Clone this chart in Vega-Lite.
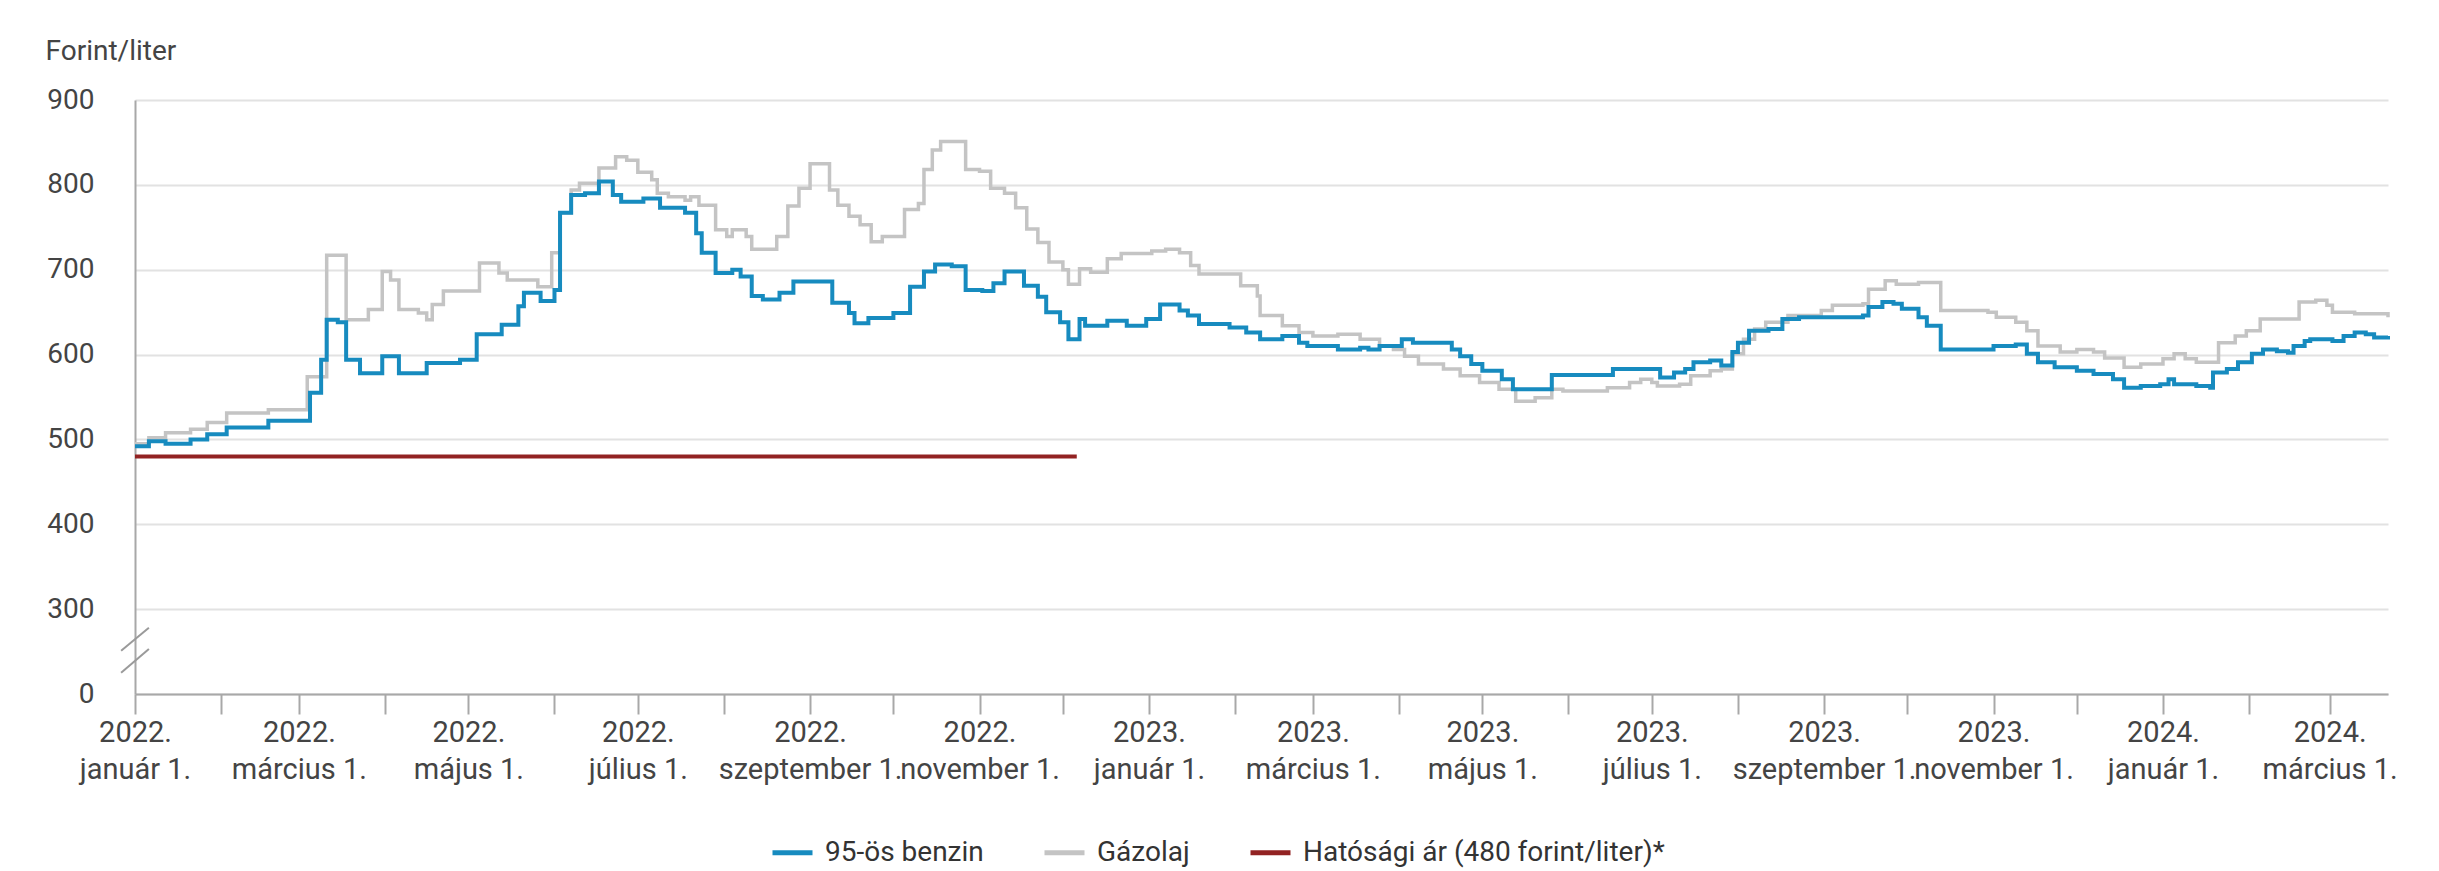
{
  "$schema": "https://vega.github.io/schema/vega-lite/v6.json",
  "width": 2253,
  "height": 594,
  "autosize": {"type": "none"},
  "padding": {"left": 135, "top": 100, "right": 51, "bottom": 177},
  "background": "white",
  "config": {
    "font": "Roboto",
    "view": {"stroke": null},
    "axis": {"labelFont": "Roboto", "titleFont": "Roboto", "labelColor": "#444444", "titleColor": "#444444"}
  },
  "datasets": {
    "prices": [
      {"d": "2022-01-01", "s": "95-ös benzin", "v": 492},
      {"d": "2022-01-06", "s": "95-ös benzin", "v": 498},
      {"d": "2022-01-12", "s": "95-ös benzin", "v": 495},
      {"d": "2022-01-21", "s": "95-ös benzin", "v": 500},
      {"d": "2022-01-27", "s": "95-ös benzin", "v": 506},
      {"d": "2022-02-03", "s": "95-ös benzin", "v": 514},
      {"d": "2022-02-18", "s": "95-ös benzin", "v": 522},
      {"d": "2022-03-05", "s": "95-ös benzin", "v": 555},
      {"d": "2022-03-09", "s": "95-ös benzin", "v": 594},
      {"d": "2022-03-11", "s": "95-ös benzin", "v": 641},
      {"d": "2022-03-15", "s": "95-ös benzin", "v": 638},
      {"d": "2022-03-18", "s": "95-ös benzin", "v": 594},
      {"d": "2022-03-23", "s": "95-ös benzin", "v": 578},
      {"d": "2022-03-31", "s": "95-ös benzin", "v": 598},
      {"d": "2022-04-06", "s": "95-ös benzin", "v": 578},
      {"d": "2022-04-16", "s": "95-ös benzin", "v": 590},
      {"d": "2022-04-28", "s": "95-ös benzin", "v": 594},
      {"d": "2022-05-04", "s": "95-ös benzin", "v": 624},
      {"d": "2022-05-13", "s": "95-ös benzin", "v": 635},
      {"d": "2022-05-19", "s": "95-ös benzin", "v": 657},
      {"d": "2022-05-21", "s": "95-ös benzin", "v": 673},
      {"d": "2022-05-27", "s": "95-ös benzin", "v": 663},
      {"d": "2022-06-01", "s": "95-ös benzin", "v": 676},
      {"d": "2022-06-03", "s": "95-ös benzin", "v": 767},
      {"d": "2022-06-07", "s": "95-ös benzin", "v": 788},
      {"d": "2022-06-12", "s": "95-ös benzin", "v": 790},
      {"d": "2022-06-17", "s": "95-ös benzin", "v": 804},
      {"d": "2022-06-22", "s": "95-ös benzin", "v": 788},
      {"d": "2022-06-25", "s": "95-ös benzin", "v": 780},
      {"d": "2022-07-03", "s": "95-ös benzin", "v": 784},
      {"d": "2022-07-09", "s": "95-ös benzin", "v": 773},
      {"d": "2022-07-18", "s": "95-ös benzin", "v": 767},
      {"d": "2022-07-22", "s": "95-ös benzin", "v": 743},
      {"d": "2022-07-24", "s": "95-ös benzin", "v": 720},
      {"d": "2022-07-29", "s": "95-ös benzin", "v": 696},
      {"d": "2022-08-04", "s": "95-ös benzin", "v": 700},
      {"d": "2022-08-07", "s": "95-ös benzin", "v": 692},
      {"d": "2022-08-11", "s": "95-ös benzin", "v": 669},
      {"d": "2022-08-15", "s": "95-ös benzin", "v": 665},
      {"d": "2022-08-21", "s": "95-ös benzin", "v": 673},
      {"d": "2022-08-26", "s": "95-ös benzin", "v": 686},
      {"d": "2022-09-09", "s": "95-ös benzin", "v": 661},
      {"d": "2022-09-15", "s": "95-ös benzin", "v": 649},
      {"d": "2022-09-17", "s": "95-ös benzin", "v": 637},
      {"d": "2022-09-22", "s": "95-ös benzin", "v": 643},
      {"d": "2022-10-01", "s": "95-ös benzin", "v": 649},
      {"d": "2022-10-07", "s": "95-ös benzin", "v": 680},
      {"d": "2022-10-12", "s": "95-ös benzin", "v": 698},
      {"d": "2022-10-16", "s": "95-ös benzin", "v": 706},
      {"d": "2022-10-22", "s": "95-ös benzin", "v": 704},
      {"d": "2022-10-27", "s": "95-ös benzin", "v": 676},
      {"d": "2022-11-02", "s": "95-ös benzin", "v": 675},
      {"d": "2022-11-06", "s": "95-ös benzin", "v": 684},
      {"d": "2022-11-10", "s": "95-ös benzin", "v": 698},
      {"d": "2022-11-17", "s": "95-ös benzin", "v": 681},
      {"d": "2022-11-22", "s": "95-ös benzin", "v": 668},
      {"d": "2022-11-25", "s": "95-ös benzin", "v": 650},
      {"d": "2022-11-30", "s": "95-ös benzin", "v": 638},
      {"d": "2022-12-03", "s": "95-ös benzin", "v": 618},
      {"d": "2022-12-07", "s": "95-ös benzin", "v": 642},
      {"d": "2022-12-09", "s": "95-ös benzin", "v": 634},
      {"d": "2022-12-17", "s": "95-ös benzin", "v": 640},
      {"d": "2022-12-24", "s": "95-ös benzin", "v": 634},
      {"d": "2022-12-31", "s": "95-ös benzin", "v": 642},
      {"d": "2023-01-05", "s": "95-ös benzin", "v": 659},
      {"d": "2023-01-12", "s": "95-ös benzin", "v": 652},
      {"d": "2023-01-15", "s": "95-ös benzin", "v": 646},
      {"d": "2023-01-19", "s": "95-ös benzin", "v": 636},
      {"d": "2023-01-30", "s": "95-ös benzin", "v": 632},
      {"d": "2023-02-05", "s": "95-ös benzin", "v": 626},
      {"d": "2023-02-10", "s": "95-ös benzin", "v": 618},
      {"d": "2023-02-18", "s": "95-ös benzin", "v": 622},
      {"d": "2023-02-24", "s": "95-ös benzin", "v": 614},
      {"d": "2023-02-27", "s": "95-ös benzin", "v": 610},
      {"d": "2023-03-10", "s": "95-ös benzin", "v": 606},
      {"d": "2023-03-18", "s": "95-ös benzin", "v": 608},
      {"d": "2023-03-21", "s": "95-ös benzin", "v": 606},
      {"d": "2023-03-25", "s": "95-ös benzin", "v": 610},
      {"d": "2023-04-02", "s": "95-ös benzin", "v": 618},
      {"d": "2023-04-06", "s": "95-ös benzin", "v": 614},
      {"d": "2023-04-20", "s": "95-ös benzin", "v": 606},
      {"d": "2023-04-23", "s": "95-ös benzin", "v": 598},
      {"d": "2023-04-27", "s": "95-ös benzin", "v": 589},
      {"d": "2023-05-01", "s": "95-ös benzin", "v": 581},
      {"d": "2023-05-08", "s": "95-ös benzin", "v": 571},
      {"d": "2023-05-12", "s": "95-ös benzin", "v": 559},
      {"d": "2023-05-26", "s": "95-ös benzin", "v": 576},
      {"d": "2023-06-17", "s": "95-ös benzin", "v": 583},
      {"d": "2023-07-04", "s": "95-ös benzin", "v": 573},
      {"d": "2023-07-09", "s": "95-ös benzin", "v": 579},
      {"d": "2023-07-13", "s": "95-ös benzin", "v": 583},
      {"d": "2023-07-16", "s": "95-ös benzin", "v": 591},
      {"d": "2023-07-22", "s": "95-ös benzin", "v": 593},
      {"d": "2023-07-26", "s": "95-ös benzin", "v": 587},
      {"d": "2023-07-30", "s": "95-ös benzin", "v": 603},
      {"d": "2023-08-01", "s": "95-ös benzin", "v": 614},
      {"d": "2023-08-05", "s": "95-ös benzin", "v": 628},
      {"d": "2023-08-12", "s": "95-ös benzin", "v": 630},
      {"d": "2023-08-17", "s": "95-ös benzin", "v": 642},
      {"d": "2023-08-23", "s": "95-ös benzin", "v": 644},
      {"d": "2023-09-15", "s": "95-ös benzin", "v": 646},
      {"d": "2023-09-17", "s": "95-ös benzin", "v": 656},
      {"d": "2023-09-22", "s": "95-ös benzin", "v": 662},
      {"d": "2023-09-26", "s": "95-ös benzin", "v": 660},
      {"d": "2023-09-29", "s": "95-ös benzin", "v": 654},
      {"d": "2023-10-05", "s": "95-ös benzin", "v": 644},
      {"d": "2023-10-08", "s": "95-ös benzin", "v": 634},
      {"d": "2023-10-13", "s": "95-ös benzin", "v": 606},
      {"d": "2023-11-01", "s": "95-ös benzin", "v": 610},
      {"d": "2023-11-09", "s": "95-ös benzin", "v": 612},
      {"d": "2023-11-13", "s": "95-ös benzin", "v": 601},
      {"d": "2023-11-17", "s": "95-ös benzin", "v": 591},
      {"d": "2023-11-23", "s": "95-ös benzin", "v": 585},
      {"d": "2023-12-01", "s": "95-ös benzin", "v": 581},
      {"d": "2023-12-07", "s": "95-ös benzin", "v": 577},
      {"d": "2023-12-14", "s": "95-ös benzin", "v": 571},
      {"d": "2023-12-18", "s": "95-ös benzin", "v": 561},
      {"d": "2023-12-24", "s": "95-ös benzin", "v": 563},
      {"d": "2023-12-31", "s": "95-ös benzin", "v": 565},
      {"d": "2024-01-03", "s": "95-ös benzin", "v": 571},
      {"d": "2024-01-05", "s": "95-ös benzin", "v": 565},
      {"d": "2024-01-13", "s": "95-ös benzin", "v": 563},
      {"d": "2024-01-18", "s": "95-ös benzin", "v": 561},
      {"d": "2024-01-19", "s": "95-ös benzin", "v": 579},
      {"d": "2024-01-24", "s": "95-ös benzin", "v": 583},
      {"d": "2024-01-28", "s": "95-ös benzin", "v": 591},
      {"d": "2024-02-02", "s": "95-ös benzin", "v": 601},
      {"d": "2024-02-06", "s": "95-ös benzin", "v": 606},
      {"d": "2024-02-11", "s": "95-ös benzin", "v": 604},
      {"d": "2024-02-15", "s": "95-ös benzin", "v": 602},
      {"d": "2024-02-17", "s": "95-ös benzin", "v": 610},
      {"d": "2024-02-21", "s": "95-ös benzin", "v": 616},
      {"d": "2024-02-23", "s": "95-ös benzin", "v": 618},
      {"d": "2024-03-02", "s": "95-ös benzin", "v": 616},
      {"d": "2024-03-06", "s": "95-ös benzin", "v": 622},
      {"d": "2024-03-10", "s": "95-ös benzin", "v": 626},
      {"d": "2024-03-14", "s": "95-ös benzin", "v": 624},
      {"d": "2024-03-17", "s": "95-ös benzin", "v": 620},
      {"d": "2024-03-22", "s": "95-ös benzin", "v": 622},

      {"d": "2022-01-01", "s": "Gázolaj", "v": 495},
      {"d": "2022-01-06", "s": "Gázolaj", "v": 502},
      {"d": "2022-01-12", "s": "Gázolaj", "v": 508},
      {"d": "2022-01-21", "s": "Gázolaj", "v": 512},
      {"d": "2022-01-27", "s": "Gázolaj", "v": 520},
      {"d": "2022-02-03", "s": "Gázolaj", "v": 531},
      {"d": "2022-02-18", "s": "Gázolaj", "v": 535},
      {"d": "2022-03-04", "s": "Gázolaj", "v": 574},
      {"d": "2022-03-11", "s": "Gázolaj", "v": 717},
      {"d": "2022-03-18", "s": "Gázolaj", "v": 641},
      {"d": "2022-03-26", "s": "Gázolaj", "v": 653},
      {"d": "2022-03-31", "s": "Gázolaj", "v": 698},
      {"d": "2022-04-03", "s": "Gázolaj", "v": 688},
      {"d": "2022-04-06", "s": "Gázolaj", "v": 653},
      {"d": "2022-04-13", "s": "Gázolaj", "v": 649},
      {"d": "2022-04-16", "s": "Gázolaj", "v": 641},
      {"d": "2022-04-18", "s": "Gázolaj", "v": 659},
      {"d": "2022-04-22", "s": "Gázolaj", "v": 675},
      {"d": "2022-05-05", "s": "Gázolaj", "v": 708},
      {"d": "2022-05-12", "s": "Gázolaj", "v": 696},
      {"d": "2022-05-15", "s": "Gázolaj", "v": 688},
      {"d": "2022-05-26", "s": "Gázolaj", "v": 680},
      {"d": "2022-05-31", "s": "Gázolaj", "v": 720},
      {"d": "2022-06-03", "s": "Gázolaj", "v": 767},
      {"d": "2022-06-07", "s": "Gázolaj", "v": 794},
      {"d": "2022-06-10", "s": "Gázolaj", "v": 802},
      {"d": "2022-06-17", "s": "Gázolaj", "v": 820},
      {"d": "2022-06-23", "s": "Gázolaj", "v": 833},
      {"d": "2022-06-27", "s": "Gázolaj", "v": 829},
      {"d": "2022-07-01", "s": "Gázolaj", "v": 815},
      {"d": "2022-07-06", "s": "Gázolaj", "v": 806},
      {"d": "2022-07-08", "s": "Gázolaj", "v": 790},
      {"d": "2022-07-12", "s": "Gázolaj", "v": 786},
      {"d": "2022-07-18", "s": "Gázolaj", "v": 782},
      {"d": "2022-07-20", "s": "Gázolaj", "v": 786},
      {"d": "2022-07-23", "s": "Gázolaj", "v": 776},
      {"d": "2022-07-29", "s": "Gázolaj", "v": 747},
      {"d": "2022-08-02", "s": "Gázolaj", "v": 739},
      {"d": "2022-08-04", "s": "Gázolaj", "v": 747},
      {"d": "2022-08-09", "s": "Gázolaj", "v": 739},
      {"d": "2022-08-11", "s": "Gázolaj", "v": 724},
      {"d": "2022-08-20", "s": "Gázolaj", "v": 739},
      {"d": "2022-08-24", "s": "Gázolaj", "v": 775},
      {"d": "2022-08-28", "s": "Gázolaj", "v": 796},
      {"d": "2022-09-01", "s": "Gázolaj", "v": 825},
      {"d": "2022-09-08", "s": "Gázolaj", "v": 794},
      {"d": "2022-09-11", "s": "Gázolaj", "v": 776},
      {"d": "2022-09-15", "s": "Gázolaj", "v": 763},
      {"d": "2022-09-19", "s": "Gázolaj", "v": 753},
      {"d": "2022-09-23", "s": "Gázolaj", "v": 733},
      {"d": "2022-09-27", "s": "Gázolaj", "v": 739},
      {"d": "2022-10-05", "s": "Gázolaj", "v": 771},
      {"d": "2022-10-10", "s": "Gázolaj", "v": 778},
      {"d": "2022-10-12", "s": "Gázolaj", "v": 818},
      {"d": "2022-10-15", "s": "Gázolaj", "v": 841},
      {"d": "2022-10-18", "s": "Gázolaj", "v": 851},
      {"d": "2022-10-27", "s": "Gázolaj", "v": 818},
      {"d": "2022-11-01", "s": "Gázolaj", "v": 816},
      {"d": "2022-11-05", "s": "Gázolaj", "v": 796},
      {"d": "2022-11-10", "s": "Gázolaj", "v": 790},
      {"d": "2022-11-14", "s": "Gázolaj", "v": 773},
      {"d": "2022-11-18", "s": "Gázolaj", "v": 748},
      {"d": "2022-11-22", "s": "Gázolaj", "v": 732},
      {"d": "2022-11-26", "s": "Gázolaj", "v": 709},
      {"d": "2022-12-01", "s": "Gázolaj", "v": 700},
      {"d": "2022-12-03", "s": "Gázolaj", "v": 683},
      {"d": "2022-12-07", "s": "Gázolaj", "v": 701},
      {"d": "2022-12-11", "s": "Gázolaj", "v": 697},
      {"d": "2022-12-17", "s": "Gázolaj", "v": 713},
      {"d": "2022-12-22", "s": "Gázolaj", "v": 719},
      {"d": "2023-01-02", "s": "Gázolaj", "v": 722},
      {"d": "2023-01-07", "s": "Gázolaj", "v": 724},
      {"d": "2023-01-12", "s": "Gázolaj", "v": 720},
      {"d": "2023-01-16", "s": "Gázolaj", "v": 705},
      {"d": "2023-01-19", "s": "Gázolaj", "v": 695},
      {"d": "2023-02-03", "s": "Gázolaj", "v": 681},
      {"d": "2023-02-09", "s": "Gázolaj", "v": 669},
      {"d": "2023-02-10", "s": "Gázolaj", "v": 646},
      {"d": "2023-02-18", "s": "Gázolaj", "v": 634},
      {"d": "2023-02-24", "s": "Gázolaj", "v": 626},
      {"d": "2023-03-01", "s": "Gázolaj", "v": 622},
      {"d": "2023-03-10", "s": "Gázolaj", "v": 624},
      {"d": "2023-03-18", "s": "Gázolaj", "v": 618},
      {"d": "2023-03-25", "s": "Gázolaj", "v": 610},
      {"d": "2023-03-30", "s": "Gázolaj", "v": 606},
      {"d": "2023-04-03", "s": "Gázolaj", "v": 598},
      {"d": "2023-04-08", "s": "Gázolaj", "v": 589},
      {"d": "2023-04-17", "s": "Gázolaj", "v": 583},
      {"d": "2023-04-23", "s": "Gázolaj", "v": 575},
      {"d": "2023-04-30", "s": "Gázolaj", "v": 567},
      {"d": "2023-05-07", "s": "Gázolaj", "v": 559},
      {"d": "2023-05-13", "s": "Gázolaj", "v": 545},
      {"d": "2023-05-20", "s": "Gázolaj", "v": 549},
      {"d": "2023-05-26", "s": "Gázolaj", "v": 559},
      {"d": "2023-05-30", "s": "Gázolaj", "v": 557},
      {"d": "2023-06-15", "s": "Gázolaj", "v": 561},
      {"d": "2023-06-23", "s": "Gázolaj", "v": 567},
      {"d": "2023-06-27", "s": "Gázolaj", "v": 571},
      {"d": "2023-07-01", "s": "Gázolaj", "v": 567},
      {"d": "2023-07-03", "s": "Gázolaj", "v": 563},
      {"d": "2023-07-11", "s": "Gázolaj", "v": 565},
      {"d": "2023-07-15", "s": "Gázolaj", "v": 575},
      {"d": "2023-07-22", "s": "Gázolaj", "v": 581},
      {"d": "2023-07-26", "s": "Gázolaj", "v": 583},
      {"d": "2023-07-30", "s": "Gázolaj", "v": 601},
      {"d": "2023-08-03", "s": "Gázolaj", "v": 618},
      {"d": "2023-08-07", "s": "Gázolaj", "v": 630},
      {"d": "2023-08-11", "s": "Gázolaj", "v": 638},
      {"d": "2023-08-19", "s": "Gázolaj", "v": 646},
      {"d": "2023-08-31", "s": "Gázolaj", "v": 652},
      {"d": "2023-09-04", "s": "Gázolaj", "v": 658},
      {"d": "2023-09-15", "s": "Gázolaj", "v": 660},
      {"d": "2023-09-17", "s": "Gázolaj", "v": 677},
      {"d": "2023-09-23", "s": "Gázolaj", "v": 687},
      {"d": "2023-09-27", "s": "Gázolaj", "v": 683},
      {"d": "2023-10-05", "s": "Gázolaj", "v": 685},
      {"d": "2023-10-13", "s": "Gázolaj", "v": 652},
      {"d": "2023-10-30", "s": "Gázolaj", "v": 650},
      {"d": "2023-11-02", "s": "Gázolaj", "v": 644},
      {"d": "2023-11-09", "s": "Gázolaj", "v": 638},
      {"d": "2023-11-13", "s": "Gázolaj", "v": 628},
      {"d": "2023-11-17", "s": "Gázolaj", "v": 610},
      {"d": "2023-11-25", "s": "Gázolaj", "v": 603},
      {"d": "2023-12-01", "s": "Gázolaj", "v": 606},
      {"d": "2023-12-07", "s": "Gázolaj", "v": 603},
      {"d": "2023-12-11", "s": "Gázolaj", "v": 596},
      {"d": "2023-12-18", "s": "Gázolaj", "v": 585},
      {"d": "2023-12-24", "s": "Gázolaj", "v": 589},
      {"d": "2024-01-01", "s": "Gázolaj", "v": 595},
      {"d": "2024-01-05", "s": "Gázolaj", "v": 601},
      {"d": "2024-01-09", "s": "Gázolaj", "v": 595},
      {"d": "2024-01-13", "s": "Gázolaj", "v": 591},
      {"d": "2024-01-21", "s": "Gázolaj", "v": 614},
      {"d": "2024-01-27", "s": "Gázolaj", "v": 622},
      {"d": "2024-01-31", "s": "Gázolaj", "v": 628},
      {"d": "2024-02-05", "s": "Gázolaj", "v": 642},
      {"d": "2024-02-19", "s": "Gázolaj", "v": 662},
      {"d": "2024-02-25", "s": "Gázolaj", "v": 664},
      {"d": "2024-02-29", "s": "Gázolaj", "v": 658},
      {"d": "2024-03-02", "s": "Gázolaj", "v": 650},
      {"d": "2024-03-10", "s": "Gázolaj", "v": 648},
      {"d": "2024-03-22", "s": "Gázolaj", "v": 644},

      {"d": "2022-01-01", "s": "Hatósági ár (480 forint/liter)*", "v": 480},
      {"d": "2022-12-06", "s": "Hatósági ár (480 forint/liter)*", "v": 480}
    ]
  },
  "layer": [
    {
      "data": {"name": "prices"},
      "transform": [{"filter": "datum.s === 'Gázolaj'"}],
      "mark": {"type": "line", "interpolate": "step-after", "strokeWidth": 3.5},
      "encoding": {
        "x": {
          "field": "d", "type": "temporal",
          "scale": {"type": "utc", "domain": [{"year": 2022, "month": 1, "date": 1, "utc": true}, {"year": 2024, "month": 3, "date": 22, "utc": true}]},
          "axis": {
            "title": null,
            "tickCount": {"interval": "month", "step": 1},
            "labelExpr": "utcmonth(datum.value) % 2 == 1 ? '' : [utcFormat(datum.value, '%Y.'), ['január','február','március','április','május','június','július','augusztus','szeptember','október','november','december'][utcmonth(datum.value)] + ' 1.']",
            "labelOverlap": false,
            "labelFlush": false,
            "labelBound": false,
            "labelLimit": 1000,
            "labelFontSize": 29,
            "labelLineHeight": 37,
            "labelPadding": 4,
            "tickSize": 20,
            "tickColor": "#a8a8a8",
            "tickWidth": 2,
            "domainColor": "#a8a8a8",
            "domainWidth": 2,
            "grid": false
          }
        },
        "y": {
          "field": "v", "type": "quantitative",
          "scale": {"domain": [200, 900], "nice": false, "zero": false},
          "axis": {
            "title": "Forint/liter",
            "titleAngle": 0,
            "titleAlign": "left",
            "titleBaseline": "alphabetic",
            "titleX": -90,
            "titleY": -41,
            "titleFontSize": 28,
            "titleFontWeight": "normal",
            "values": [200, 300, 400, 500, 600, 700, 800, 900],
            "labelExpr": "datum.value == 200 ? '0' : datum.label",
            "labelFontSize": 28,
            "labelPadding": 41,
            "ticks": false,
            "domainColor": "#a8a8a8",
            "domainWidth": 2,
            "gridColor": "#e2e2e2",
            "gridWidth": 2
          }
        },
        "color": {
          "field": "s", "type": "nominal",
          "scale": {
            "domain": ["95-ös benzin", "Gázolaj", "Hatósági ár (480 forint/liter)*"],
            "range": ["#178bbf", "#c4c4c4", "#922222"]
          },
          "legend": {
            "title": null,
            "orient": "none",
            "legendX": 635,
            "legendY": 730,
            "direction": "horizontal",
            "symbolType": "stroke",
            "symbolSize": 1600,
            "symbolStrokeWidth": 5,
            "labelFontSize": 28,
            "labelFont": "Roboto",
            "labelColor": "#333333",
            "labelLimit": 1000,
            "labelOffset": 10,
            "columnPadding": 50
          }
        }
      }
    },
    {
      "data": {"name": "prices"},
      "transform": [{"filter": "datum.s === '95-ös benzin'"}],
      "mark": {"type": "line", "interpolate": "step-after", "strokeWidth": 4},
      "encoding": {
        "x": {"field": "d", "type": "temporal"},
        "y": {"field": "v", "type": "quantitative"},
        "color": {"field": "s", "type": "nominal"}
      }
    },
    {
      "data": {"name": "prices"},
      "transform": [{"filter": "datum.s === 'Hatósági ár (480 forint/liter)*'"}],
      "mark": {"type": "line", "interpolate": "step-after", "strokeWidth": 4},
      "encoding": {
        "x": {"field": "d", "type": "temporal"},
        "y": {"field": "v", "type": "quantitative"},
        "color": {"field": "s", "type": "nominal"}
      }
    },
    {
      "data": {"values": [{"k": 1}]},
      "mark": {"type": "rule", "stroke": "#9a9a9a", "strokeWidth": 2},
      "encoding": {
        "x": {"datum": {"year": 2021, "month": 12, "date": 27, "utc": true}, "type": "temporal"},
        "x2": {"datum": {"year": 2022, "month": 1, "date": 6, "utc": true}},
        "y": {"datum": 251, "type": "quantitative"},
        "y2": {"datum": 278}
      }
    },
    {
      "data": {"values": [{"k": 2}]},
      "mark": {"type": "rule", "stroke": "#9a9a9a", "strokeWidth": 2},
      "encoding": {
        "x": {"datum": {"year": 2021, "month": 12, "date": 27, "utc": true}, "type": "temporal"},
        "x2": {"datum": {"year": 2022, "month": 1, "date": 6, "utc": true}},
        "y": {"datum": 225, "type": "quantitative"},
        "y2": {"datum": 253}
      }
    }
  ],
  "resolve": {"scale": {"x": "shared", "y": "shared", "color": "shared"}}
}
